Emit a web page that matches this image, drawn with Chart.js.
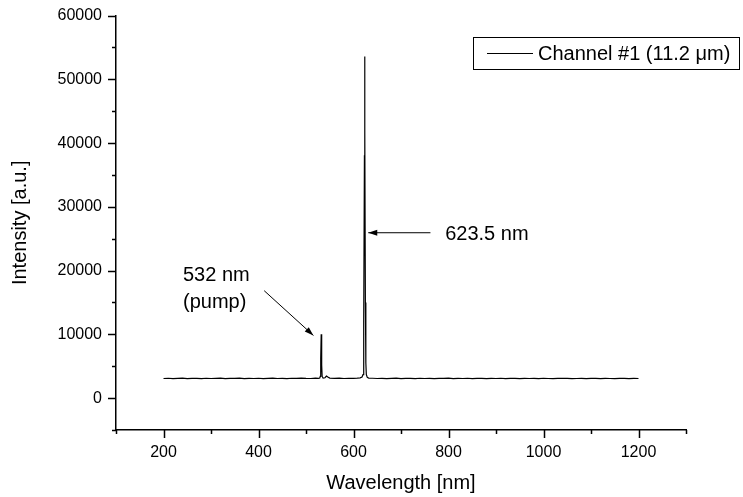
<!DOCTYPE html>
<html>
<head>
<meta charset="utf-8">
<script src="https://cdn.jsdelivr.net/npm/chart.js@4/dist/chart.umd.min.js"></script>
<style>
html,body{margin:0;padding:0;background:#fff;}
#wrap{width:743px;height:497px;}
</style>
</head>
<body>
<div id="wrap"><canvas id="c" width="743" height="497"></canvas></div>
<script>
// ---- data ----
const wavelengths = [
  200,210,220,230,240,250,260,270,280,290,
  300,310,320,330,340,350,360,370,380,390,
  400,410,420,430,440,450,460,470,480,490,
  500,510,520,526,529,530,531,532,533,534,
  536,540,543,546,550,560,570,580,590,600,
  608,614,618,620,621,622,623,623.5,624,625,
  626,627,629,632,640,650,660,670,680,690,
  700,710,720,730,740,750,760,770,780,790,
  800,810,820,830,840,850,860,870,880,890,
  900,910,920,930,940,950,960,970,980,990,
  1000,1010,1020,1030,1040,1050,1060,1070,1080,1090,
  1100,1110,1120,1130,1140,1150,1160,1170,1180,1190,1200
];
const intensities = [
  3080,3120,3060,3100,3140,3070,3110,3090,3050,3120,
  3080,3100,3130,3060,3100,3090,3140,3070,3110,3080,
  3120,3060,3100,3130,3080,3110,3070,3120,3090,3140,
  3100,3080,3130,3100,3150,3400,6200,10000,5200,3400,
  3150,3200,3450,3300,3150,3100,3130,3080,3120,3100,
  3140,3180,3300,3700,4800,12000,38000,53600,42000,15000,
  5500,3700,3250,3150,3120,3080,3110,3060,3100,3130,
  3070,3110,3090,3050,3120,3080,3100,3060,3110,3090,
  3130,3070,3100,3080,3120,3060,3090,3110,3070,3100,
  3080,3120,3060,3100,3090,3050,3110,3080,3100,3070,
  3120,3080,3060,3100,3090,3110,3070,3080,3100,3060,
  3090,3110,3070,3100,3080,3060,3100,3090,3070,3110,3080
];
const seriesLabel = 'Channel #1 (11.2 \u03BCm)';
const xTitle = 'Wavelength [nm]';
const yTitle = 'Intensity [a.u.]';
const xMajorTicks = [200,400,600,800,1000,1200];
const yMajorTicks = [0,10000,20000,30000,40000,50000,60000];
const pumpLabel = ['532 nm','(pump)'];
const peakLabel = '623.5 nm';

const FONT = 'Arial, "Liberation Sans", sans-serif';

const tickPlugin = {
  id: 'ticksDraw',
  afterDraw(chart) {
    const ctx = chart.ctx;
    const xs = chart.scales.x, ys = chart.scales.y;
    const area = chart.chartArea;
    ctx.save();
    ctx.strokeStyle = '#000';
    ctx.lineWidth = 1.5;
    ctx.beginPath();
    xs.ticks.forEach(t => {
      const px = Math.round(xs.getPixelForValue(t.value)) + 0.5;
      const len = xMajorTicks.includes(t.value) ? 8 : 4;
      ctx.moveTo(px, area.bottom);
      ctx.lineTo(px, area.bottom + len);
    });
    ys.ticks.forEach(t => {
      const py = Math.round(ys.getPixelForValue(t.value)) + 0.5;
      const len = yMajorTicks.includes(t.value) ? 8 : 4;
      ctx.moveTo(area.left, py);
      ctx.lineTo(area.left - len, py);
    });
    ctx.stroke();

    // annotations
    ctx.fillStyle = '#000';
    ctx.font = '20px ' + FONT;
    ctx.textBaseline = 'middle';
    ctx.textAlign = 'left';
    const X = v => xs.getPixelForValue(v), Y = v => ys.getPixelForValue(v);
    ctx.fillText(pumpLabel[0], X(241), Y(19190));
    ctx.fillText(pumpLabel[1], X(241), Y(15020));
    ctx.fillText(peakLabel, X(793), Y(25700));

    function arrow(x1, y1, x2, y2) {
      ctx.lineWidth = 1;
      ctx.beginPath();
      ctx.moveTo(x1, y1);
      ctx.lineTo(x2, y2);
      ctx.stroke();
      const ang = Math.atan2(y2 - y1, x2 - x1);
      const hl = 9, hw = 3;
      ctx.beginPath();
      ctx.moveTo(x2, y2);
      ctx.lineTo(x2 - hl*Math.cos(ang) + hw*Math.sin(ang), y2 - hl*Math.sin(ang) - hw*Math.cos(ang));
      ctx.lineTo(x2 - hl*Math.cos(ang) - hw*Math.sin(ang), y2 - hl*Math.sin(ang) + hw*Math.cos(ang));
      ctx.closePath();
      ctx.fill();
    }
    arrow(X(762), Y(25940), X(631), Y(25940));
    arrow(X(412), Y(16850), X(515.6), Y(9830));

    // legend box
    ctx.lineWidth = 1;
    ctx.strokeRect(473.5, 37.5, 266, 32);
    ctx.beginPath();
    ctx.moveTo(487, 53.5);
    ctx.lineTo(533, 53.5);
    ctx.stroke();
    ctx.font = '20px ' + FONT;
    ctx.fillText(seriesLabel, 538, 54);
    ctx.restore();
  }
};

new Chart(document.getElementById('c'), {
  type: 'line',
  data: {
    datasets: [{
      label: seriesLabel,
      data: wavelengths.map((w, i) => ({x: w, y: intensities[i]})),
      borderColor: '#000',
      borderWidth: 1.2,
      pointRadius: 0,
      tension: 0,
      fill: false
    }]
  },
  options: {
    responsive: false,
    animation: false,
    devicePixelRatio: 1,
    layout: {padding: {top: 13, right: 57, left: 0, bottom: 0}},
    plugins: {legend: {display: false}, tooltip: {enabled: false}},
    scales: {
      x: {
        type: 'linear',
        min: 100, max: 1300,
        afterFit(s) { s.height = 67; },
        ticks: {
          stepSize: 100, autoSkip: false, maxRotation: 0,
          color: '#000', font: {family: FONT, size: 16}, padding: 5,
          callback: v => xMajorTicks.includes(v) ? String(v) : ''
        },
        grid: {display: true, drawOnChartArea: false, drawTicks: true, tickLength: 8, color: 'rgba(0,0,0,0)'},
        border: {display: true, color: '#000', width: 1.5},
        title: {display: true, text: xTitle, color: '#000', font: {family: FONT, size: 20}, padding: {top: 0, bottom: 2}}
      },
      y: {
        type: 'linear',
        min: -5000, max: 60000,
        afterFit(s) { s.width = 116; },
        ticks: {
          stepSize: 5000, autoSkip: false,
          color: '#000', font: {family: FONT, size: 16}, padding: 6,
          callback: v => yMajorTicks.includes(v) ? String(v) : ''
        },
        grid: {display: true, drawOnChartArea: false, drawTicks: true, tickLength: 8, color: 'rgba(0,0,0,0)'},
        border: {display: true, color: '#000', width: 1.5},
        title: {display: true, text: yTitle, color: '#000', font: {family: FONT, size: 20}, padding: {top: 8, bottom: 0}}
      }
    }
  },
  plugins: [tickPlugin]
});
</script>
</body>
</html>
